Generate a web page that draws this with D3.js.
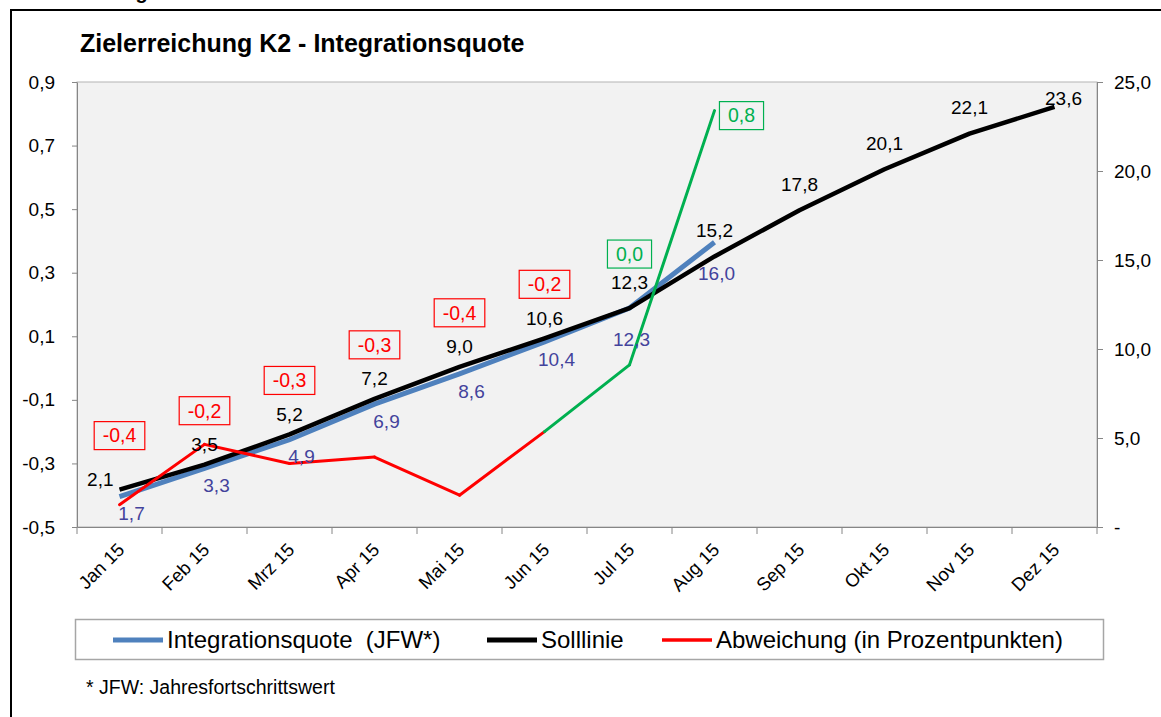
<!DOCTYPE html>
<html>
<head>
<meta charset="utf-8">
<script src="https://cdn.jsdelivr.net/npm/d3@7"></script>
<style>
  body { margin: 0; background: #fff; }
  svg { display: block; font-family: "Liberation Sans", Arial, sans-serif; }
</style>
</head>
<body>
<div id="chart"></div>
<script>
// values
var months = ["Jan 15", "Feb 15", "Mrz 15", "Apr 15", "Mai 15", "Jun 15",
              "Jul 15", "Aug 15", "Sep 15", "Okt 15", "Nov 15", "Dez 15"];
var integrationsquote = [1.7, 3.3, 4.9, 6.9, 8.6, 10.4, 12.3, 16.0];
var solllinie = [2.1, 3.5, 5.2, 7.2, 9.0, 10.6, 12.3, 15.2, 17.8, 20.1, 22.1, 23.6];
var abweichung = [-0.43, -0.24, -0.30, -0.28, -0.40, -0.20, 0.01, 0.81];
var leftTicks = [-0.5, -0.3, -0.1, 0.1, 0.3, 0.5, 0.7, 0.9];
var rightTicks = [0, 5, 10, 15, 20, 25];
var legendLabels = ["Integrationsquote  (JFW*)", "Solllinie", "Abweichung (in Prozentpunkten)"];

var width = 1161, height = 717
  , plot = { left: 77, right: 1097, top: 82, bottom: 527 }
  , blue = "#4f81bd", blueText = "#43439c"
  , red = "#ff0000", green = "#00b050"
  , axisGrey = "#868686";

var de = d3.formatLocale({ decimal: ",", thousands: ".", grouping: [3], currency: ["", " €"], minus: "-" });
var fmt1 = de.format(".1f");

var svg = d3.select("#chart").append("svg")
    .attr("width", width)
    .attr("height", height);

// heading above the frame, mostly cut off by the screenshot
svg.append("text")
   .attr("x", 10).attr("y", -1)
   .style("font-size", "20px").style("font-weight", "bold")
   .text("Zielerreichung");

// outer frame (right side runs off the picture)
svg.append("rect")
   .attr("x", 11).attr("y", 10)
   .attr("width", 1200).attr("height", 800)
   .attr("fill", "none").attr("stroke", "#000").attr("stroke-width", 2);

svg.append("text")
   .attr("x", 80).attr("y", 52)
   .style("font-size", "25px").style("font-weight", "bold")
   .text("Zielerreichung K2 - Integrationsquote");

var x = d3.scaleBand().domain(months).range([plot.left, plot.right]);
var cx = function(i) { return x(months[i]) + x.bandwidth() / 2; };
var yL = d3.scaleLinear().domain([-0.5, 0.9]).range([plot.bottom, plot.top]);
var yR = d3.scaleLinear().domain([0, 25]).range([plot.bottom, plot.top]);

svg.append("rect")
   .attr("x", plot.left).attr("y", plot.top)
   .attr("width", plot.right - plot.left).attr("height", plot.bottom - plot.top)
   .attr("fill", "#f2f2f2").attr("stroke", "#b3b3b3");

// left axis: Abweichung
svg.append("g")
   .attr("transform", "translate(" + plot.left + ",0)")
   .call(d3.axisLeft(yL).tickValues(leftTicks).tickSize(5).tickSizeOuter(0)
           .tickPadding(17).tickFormat(fmt1))
   .call(function(g) {
      g.selectAll("line,path").attr("stroke", axisGrey);
      g.selectAll("text").style("font-size", "19px").attr("fill", "#000");
   });

// right axis: Quote / Soll
svg.append("g")
   .attr("transform", "translate(" + plot.right + ",0)")
   .call(d3.axisRight(yR).tickValues(rightTicks).tickSize(6).tickSizeOuter(0)
           .tickPadding(11)
           .tickFormat(function(d) { return d === 0 ? "-" : fmt1(d); }))
   .call(function(g) {
      g.selectAll("line,path").attr("stroke", axisGrey);
      g.selectAll("text").style("font-size", "19px").attr("fill", "#000");
   });

// bottom axis, labels at the category centres
var xAxis = svg.append("g")
   .attr("transform", "translate(0," + plot.bottom + ")")
   .call(d3.axisBottom(x).tickSize(0).tickSizeOuter(0))
   .call(function(g) {
      g.select(".domain").attr("stroke", axisGrey);
      g.selectAll("text")
       .attr("y", 0).attr("dy", 0)
       .attr("text-anchor", "end")
       .attr("transform", "translate(6,24) rotate(-45)")
       .style("font-size", "18.5px").attr("fill", "#000");
   });

// Excel puts the tick marks between the categories
xAxis.selectAll(".bound")
   .data(months.map(function(m) { return x(m); }).concat([plot.right]))
   .enter().append("line")
   .attr("class", "bound")
   .attr("x1", function(d) { return d; }).attr("x2", function(d) { return d; })
   .attr("y1", 0).attr("y2", 7)
   .attr("stroke", axisGrey);

var lineR = d3.line().x(function(d, i) { return cx(i); }).y(function(d) { return yR(d); });

svg.append("path")
   .datum(integrationsquote)
   .attr("d", lineR)
   .attr("fill", "none").attr("stroke", blue).attr("stroke-width", 5);

svg.append("path")
   .datum(solllinie)
   .attr("d", lineR)
   .attr("fill", "none").attr("stroke", "#000").attr("stroke-width", 4.5)
   .attr("stroke-linejoin", "round");

// deviation: red while behind target, green once it reaches it
var segs = d3.pairs(abweichung.map(function(v, i) { return { i: i, v: v }; }));
svg.selectAll(".dev")
   .data(segs)
   .enter().append("line")
   .attr("class", "dev")
   .attr("x1", function(d) { return cx(d[0].i); })
   .attr("y1", function(d) { return yL(d[0].v); })
   .attr("x2", function(d) { return cx(d[1].i); })
   .attr("y2", function(d) { return yL(d[1].v); })
   .attr("stroke", function(d) { return d[1].v >= 0 ? green : red; })
   .attr("stroke-width", 3)
   .attr("stroke-linecap", "round");

// data labels for the target line
var last = solllinie.length - 1;
svg.selectAll(".sollLabel")
   .data(solllinie)
   .enter().append("text")
   .attr("class", "sollLabel")
   .attr("x", function(d, i) { return i === 0 ? cx(i) - 6 : i === last ? cx(i) + 9 : cx(i); })
   .attr("y", function(d, i) {
      if (i === 0) return yR(d) - 10;
      if (i === last) return yR(d) - 9;
      return yR(d) - (i < 6 ? 20 : 26);
   })
   .attr("dy", "0.35em")
   .attr("text-anchor", function(d, i) { return i === 0 ? "end" : "middle"; })
   .style("font-size", "19px")
   .text(fmt1);

// data labels for the achieved quote
svg.selectAll(".quoteLabel")
   .data(integrationsquote)
   .enter().append("text")
   .attr("class", "quoteLabel")
   .attr("x", function(d, i) { return cx(i) + (i < 6 ? 12 : 2); })
   .attr("y", function(d, i) { return yR(d) + (i < 6 ? 17 : 31); })
   .attr("dy", "0.35em")
   .attr("text-anchor", "middle")
   .attr("fill", blueText)
   .style("font-size", "19px")
   .text(fmt1);

// boxed deviation labels, hung above the target line
var lastDev = abweichung.length - 1;
var devLabels = svg.selectAll(".devLabel")
   .data(abweichung)
   .enter().append("g")
   .attr("class", "devLabel")
   .attr("transform", function(d, i) {
      var px = i === lastDev ? cx(i) + 27 : cx(i)
        , py = i === lastDev ? yL(d) + 5 : yR(solllinie[i]) - 54;
      return "translate(" + px + "," + py + ")";
   });

devLabels.append("text")
   .attr("dy", "0.35em")
   .attr("text-anchor", "middle")
   .attr("fill", function(d) { return d >= 0 ? green : red; })
   .style("font-size", "19.5px")
   .text(fmt1);

devLabels.insert("rect", "text")
   .each(function() {
      var w = d3.select(this.parentNode).select("text").node().getComputedTextLength() + 17;
      d3.select(this)
        .attr("x", -w / 2).attr("y", -14)
        .attr("width", w).attr("height", 28);
   })
   .attr("fill", "#f2f2f2")
   .attr("stroke", function(d) { return d >= 0 ? green : red; })
   .attr("stroke-width", 1.2);

// legend
var legend = svg.append("g");
legend.append("rect")
   .attr("x", 75.5).attr("y", 619.5)
   .attr("width", 1028).attr("height", 40)
   .attr("fill", "#fff").attr("stroke", "#a6a6a6").attr("stroke-width", 1.5);

var legendX = [113, 487, 662]
  , legendColors = [blue, "#000", red];
var items = legend.selectAll(".item")
   .data(legendLabels)
   .enter().append("g")
   .attr("transform", function(d, i) { return "translate(" + legendX[i] + ",640)"; });

items.append("line")
   .attr("x1", 0).attr("x2", 50)
   .attr("stroke", function(d, i) { return legendColors[i]; })
   .attr("stroke-width", function(d, i) { return i === 2 ? 3.5 : 5; });

items.append("text")
   .attr("x", 54).attr("dy", "0.35em")
   .style("font-size", "24px")
   .style("white-space", "pre")
   .text(function(d) { return d; });

svg.append("text")
   .attr("x", 86).attr("y", 687).attr("dy", "0.35em")
   .style("font-size", "19.5px")
   .text("* JFW: Jahresfortschrittswert");
</script>
</body>
</html>
